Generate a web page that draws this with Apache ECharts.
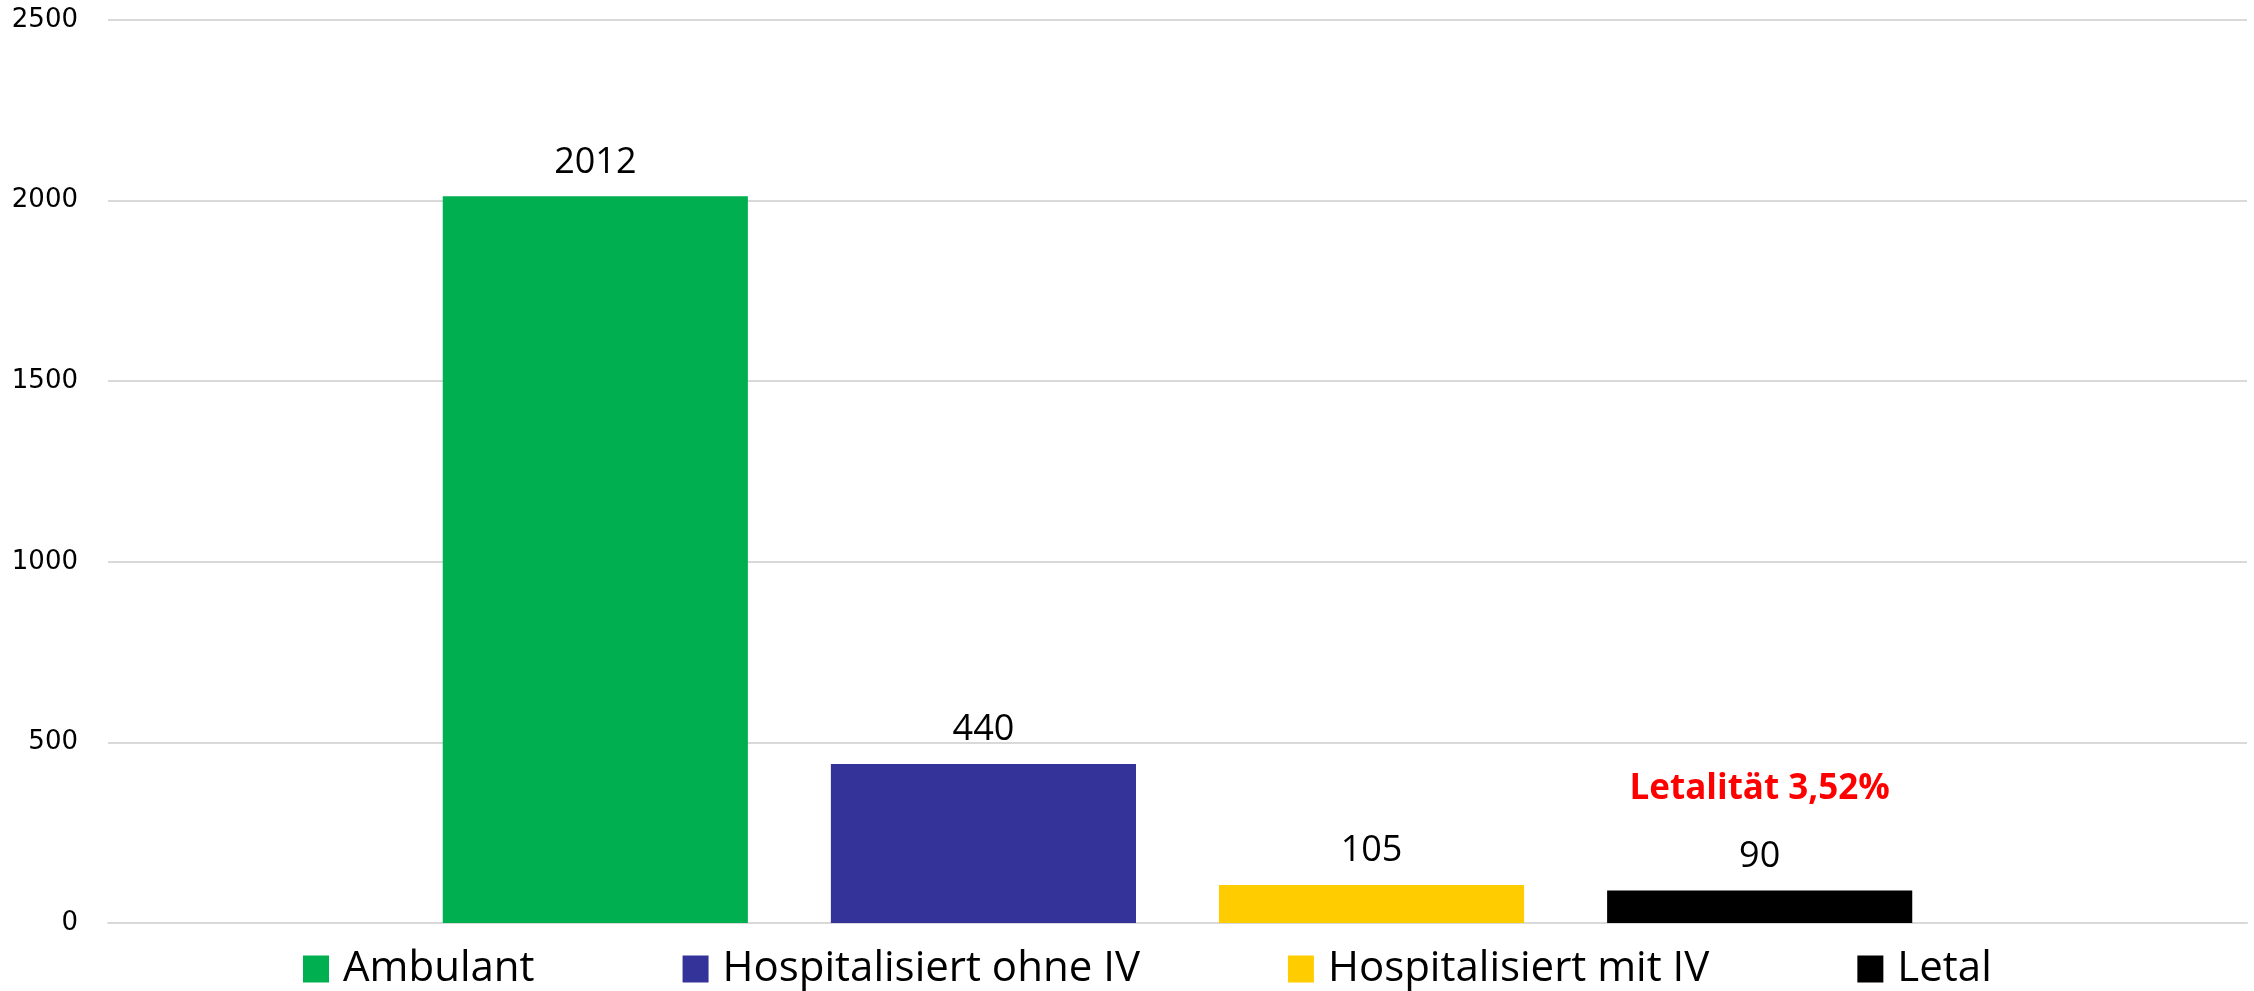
<!DOCTYPE html>
<html>
<head>
<meta charset="utf-8">
<script src="https://cdn.jsdelivr.net/npm/echarts@6/dist/echarts.min.js"></script>
<style>
  html, body { margin: 0; padding: 0; background: #fff; }
  #main { width: 2254px; height: 991px; }
</style>
</head>
<body>
<div id="main"></div>
<script>
var categories = [''];
var seriesNames = ['Ambulant', 'Hospitalisiert ohne IV', 'Hospitalisiert mit IV', 'Letal'];
var seriesValues = [[2012], [440], [105], [90]];
var seriesColors = ['#00b050', '#343399', '#ffcc00', '#000000'];
var yTicks = [0, 500, 1000, 1500, 2000, 2500];
var letalNote = 'Letalität 3,52%';

var chart = echarts.init(document.getElementById('main'));

var series = seriesNames.map(function (name, i) {
  var isLetal = i === seriesNames.length - 1;
  return {
    name: name,
    type: 'bar',
    data: seriesValues[i],
    barGap: '27.2%',
    barCategoryGap: '31.3%',
    itemStyle: { color: seriesColors[i] },
    animation: false,
    label: {
      show: true,
      position: 'top',
      distance: 14,
      color: '#000',
      fontFamily: 'Open Sans',
      fontSize: 36,
      lineHeight: 40,
      formatter: isLetal ? '{r|' + letalNote + '}\n{v|{c}}' : '{c}',
      rich: isLetal ? {
        r: { color: '#ff0000', fontWeight: 'bold', fontFamily: 'Open Sans', fontSize: 35, lineHeight: 94 },
        v: { color: '#000', fontFamily: 'Open Sans', fontSize: 36, lineHeight: 40 }
      } : undefined
    }
  };
});

chart.setOption({
  backgroundColor: '#fff',
  grid: {
    left: 108,
    right: 7,
    top: 20,
    bottom: 68,
    containLabel: false
  },
  legend: {
    bottom: -4,
    left: 298,
    itemWidth: 26,
    itemHeight: 27,
    itemGap: 148,
    icon: 'rect',
    data: seriesNames,
    textStyle: {
      fontFamily: 'Open Sans',
      fontSize: 42,
      color: '#000',
      padding: [0, 0, 0, 9]
    }
  },
  xAxis: {
    type: 'category',
    data: categories,
    axisTick: { show: false },
    axisLabel: { show: false },
    axisLine: { lineStyle: { color: '#d9d9d9', width: 2 } }
  },
  yAxis: {
    type: 'value',
    min: yTicks[0],
    max: yTicks[yTicks.length - 1],
    interval: 500,
    axisLine: { show: false },
    axisTick: { show: false },
    axisLabel: {
      color: '#000',
      fontFamily: 'DejaVu Sans',
      fontSize: 26,
      margin: 30,
      formatter: function (v) { return String(v); }
    },
    splitLine: { lineStyle: { color: '#d9d9d9', width: 2 } }
  },
  series: series
});
</script>
</body>
</html>
